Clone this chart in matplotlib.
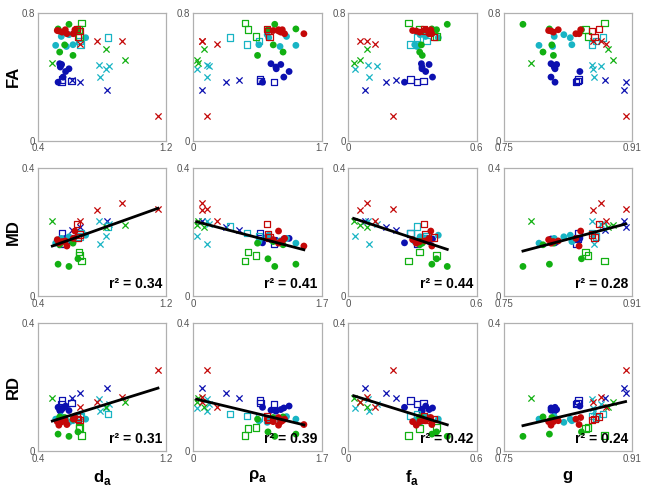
import numpy as np
import matplotlib
matplotlib.use('Agg')
import matplotlib.pyplot as plt

plt.rcParams['font.family'] = ['Liberation Sans', 'DejaVu Sans']
plt.rcParams['mathtext.fontset'] = 'custom'
plt.rcParams['mathtext.rm'] = 'Liberation Sans'
plt.rcParams['mathtext.bf'] = 'Liberation Sans:bold'

# one entry per subject: group colour and marker type
colour = (['red'] * 14 + ['green'] * 12 + ['cyan'] * 13 + ['blue'] * 13)
marker = (['o'] * 7 + ['s'] * 3 + ['x'] * 4 +
          ['o'] * 6 + ['s'] * 3 + ['x'] * 3 +
          ['o'] * 6 + ['s'] * 3 + ['x'] * 4 +
          ['o'] * 7 + ['s'] * 3 + ['x'] * 3)

d_a = [.52, .53, .55, .57, .62, .63, .58, .643, .649, .66, .768, .926, .66, 1.148,
       .593, .525, .649, .566, .535, .618, .67, .655, .66, .489, .826, .94,
       .51, .545, .577, .593, .618, .697, .836, .666, .66, .778, .784, .826, .842,
       .525, .535, .539, .547, .556, .572, .593, .55, .545, .61, .832, .664, .614]
rho_a = [1.06, 1.13, 1.16, 1.18, 1.21, 1.13, 1.466, .98, 1.007, .99, .11, .11, .318, .177,
         1.08, 1.36, .99, 1.06, 1.19, .852, .684, .728, .83, .066, .141, .053,
         1.36, 1.236, 1.15, .98, .87, 1.0, .486, .715, .874, .177, .177, .044, .212,
         .918, 1.03, 1.095, 1.16, 1.2, 1.27, 1.1, .883, 1.07, .89, .11, .44, .605]
f_a = [.30, .317, .333, .36, .377, .385, .39, .353, .40, .36, .053, .086, .126, .21,
       .462, .39, .412, .341, .333, .345, .281, .333, .412, .024, .086, .053,
       .33, .36, .32, .335, .31, .42, .32, .289, .364, .093, .097, .031, .132,
       .262, .341, .344, .377, .393, .361, .344, .289, .32, .352, .077, .176, .22]
g = [.806, .809, .812, .818, .84, .846, .844, .869, .863, .86, .861, .871, .878, .902,
     .774, .807, .847, .81, .799, .812, .876, .852, .855, .784, .88, .886,
     .794, .813, .811, .825, .835, .833, .874, .86, .865, .86, .863, .861, .871,
     .814, .809, .813, .816, .809, .845, .814, .843, .84, .842, .90, .902, .876]

FA = [.69, .687, .68, .695, .67, .695, .67, .70, .649, .687, .624, .624, .607, .157,
      .729, .70, .695, .60, .555, .534, .737, .697, .653, .488, .572, .503,
      .597, .653, .59, .664, .601, .645, .645, .601, .624, .471, .398, .45, .467,
      .366, .482, .461, .477, .398, .433, .45, .383, .366, .373, .318, .366, .378]
MD = [.176, .165, .17, .172, .18, .203, .156, .225, .182, .192, .269, .291, .233, .272,
      .092, .099, .116, .17, .16, .165, .109, .137, .127, .234, .215, .223,
      .165, .18, .172, .185, .17, .19, .217, .197, .186, .233, .163, .189, .225,
      .166, .176, .174, .17, .178, .18, .172, .196, .163, .18, .233, .217, .205]
RD = [.092, .081, .092, .095, .10, .105, .083, .109, .10, .097, .155, .168, .137, .253,
      .046, .053, .06, .105, .107, .10, .049, .071, .074, .165, .138, .155,
      .10, .108, .095, .09, .095, .10, .116, .11, .105, .162, .126, .134, .148,
      .137, .128, .125, .13, .135, .141, .127, .158, .147, .15, .197, .181, .165]

x_names = ['d_a', 'rho_a', 'f_a', 'g']
x_labels = ['d$_\\mathbf{a}$', 'ρ$_\\mathbf{a}$', 'f$_\\mathbf{a}$', 'g']
x_lims = [(0.4, 1.2), (0, 1.7), (0, 0.6), (0.75, 0.91)]
x_ticklabels = [['0.4', '1.2'], ['0', '1.7'], ['0', '0.6'], ['0.75', '0.91']]
y_names = ['FA', 'MD', 'RD']
y_lims = [(0, 0.8), (0, 0.4), (0, 0.4)]
y_ticklabels = [['0', '0.8'], ['0', '0.4'], ['0', '0.4']]
r2 = {'MD': [0.34, 0.41, 0.44, 0.28], 'RD': [0.31, 0.39, 0.42, 0.24]}

xdata = {'d_a': d_a, 'rho_a': rho_a, 'f_a': f_a, 'g': g}
ydata = {'FA': FA, 'MD': MD, 'RD': RD}
palette = {'blue': '#0c10b0', 'cyan': '#18b4c4', 'green': '#12b012', 'red': '#c40808'}

colour = np.array(colour)
marker = np.array(marker)

fig, axes = plt.subplots(3, 4, figsize=(6.49, 4.92), dpi=100)
plt.subplots_adjust(left=0.0586, right=0.9738, top=0.9736, bottom=0.0833,
                    wspace=0.21, hspace=0.217)

for i, yn in enumerate(y_names):
    for j, xn in enumerate(x_names):
        ax = axes[i, j]
        x = np.array(xdata[xn])
        y = np.array(ydata[yn])
        for c in ['blue', 'cyan', 'green', 'red']:
            col = palette[c]
            m = (colour == c) & (marker == 'o')
            ax.scatter(x[m], y[m], s=24, color=col, edgecolors='none', zorder=3)
            m = (colour == c) & (marker == 's')
            ax.scatter(x[m], y[m], s=22, marker='s', facecolors='none',
                       edgecolors=col, linewidths=0.9, zorder=3)
            m = (colour == c) & (marker == 'x')
            ax.scatter(x[m], y[m], s=20, marker='x', color=col,
                       linewidths=0.9, zorder=3)

        if yn in r2:
            k, b = np.polyfit(x, y, 1)
            xs = np.array([x.min(), x.max()])
            ax.plot(xs, k * xs + b, color='black', lw=2, zorder=4)
            ax.text(0.97, 0.04, f'r² = {r2[yn][j]:.2f}', transform=ax.transAxes,
                    ha='right', va='bottom', fontsize=10, fontweight='bold', zorder=5)

        ax.set_xlim(x_lims[j])
        ax.set_ylim(y_lims[i])
        ax.set_xticks(x_lims[j])
        ax.set_xticklabels(x_ticklabels[j])
        ax.set_yticks(y_lims[i])
        ax.set_yticklabels(y_ticklabels[i])
        ax.tick_params(length=0, labelsize=7, labelcolor='#555555', pad=2)
        for sp in ax.spines.values():
            sp.set_color('#b0b0b0')
            sp.set_linewidth(0.9)
        if j == 0:
            ax.set_ylabel(yn, fontsize=12, fontweight='bold', labelpad=1)
        if i == 2:
            ax.set_xlabel(x_labels[j], fontsize=12, fontweight='bold', labelpad=3)

fig.savefig('out.png', dpi=100)
